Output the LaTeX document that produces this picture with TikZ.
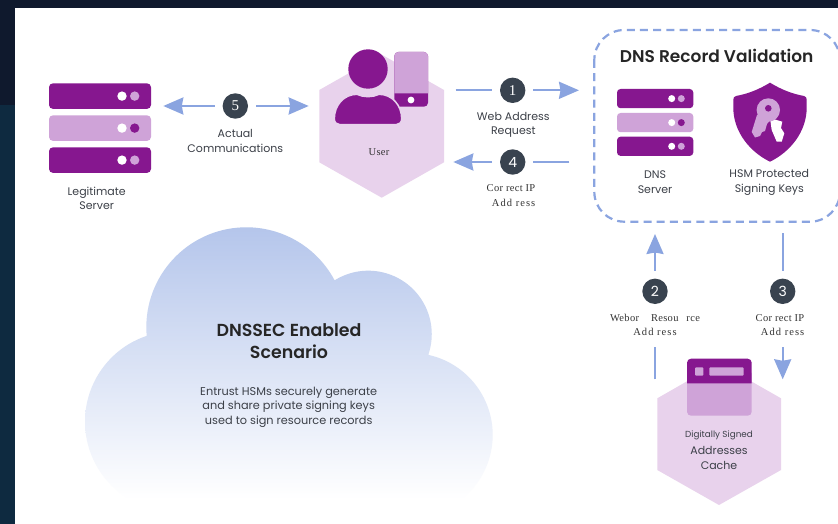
\documentclass[tikz,border=0pt]{standalone}
\usepackage{fontspec}
\setmainfont{Poppins}
\newfontfamily\titleface{Poppins SemiBold}
\newfontfamily\serifface[LetterSpace=3]{Liberation Serif}
\newfontfamily\serifwide[LetterSpace=10]{Liberation Serif}
\usepackage{tikz}
\usetikzlibrary{arrows.meta}

\definecolor{navytop}{HTML}{0F192D}
\definecolor{navyleft}{HTML}{0E2A40}
\definecolor{darkpurple}{HTML}{86178F}
\definecolor{lightpurple}{HTML}{CFA3D8}
\definecolor{hexpurple}{HTML}{E8D2EC}
\definecolor{flowblue}{HTML}{8AA4E0}
\definecolor{badgegray}{HTML}{39434F}
\definecolor{labelgray}{HTML}{3C4048}
\definecolor{cloudblue}{HTML}{B4C5EB}
\pgfdeclareverticalshading{cloudfade}{100bp}{color(0bp)=(white); color(28bp)=(white); color(75bp)=(cloudblue); color(100bp)=(cloudblue)}

\tikzset{
    badge/.style={circle, fill=badgegray, text=white, minimum size=25.4pt, inner sep=0pt, outer sep=8pt, font=\fontsize{14}{14}\selectfont},
    flowline/.style={draw=flowblue, line width=2.3pt},
    flowarrow/.style={flowline, -{Stealth[length=20pt,width=17pt,inset=1.5pt]}},
    lbl/.style={align=center, text=labelgray, inner sep=0pt, font=\fontsize{11}{14.4}\selectfont},
    seriflbl/.style={align=center, text=black!80, inner sep=0pt, font=\serifface\fontsize{10.5}{14.4}\selectfont},
}

\begin{document}
\begin{tikzpicture}[x=1pt,y=-1pt]
    \useasboundingbox (0,0) rectangle (838,524);

    % backdrop
    \fill[navytop] (0,0) rectangle (838,524);
    \fill[navyleft] (0,105) rectangle (15,524);
    \fill[white] (15,8) rectangle (838,524);

    % cloud
    \shade[shading=cloudfade] (146.7,336) arc (175:332:100) arc (238:379:63.5) arc (282.4:450:82) -- (175.4,512) arc (90:251.5:90.4) -- cycle;
    \node[inner sep=0pt, align=center, text=black!85, font=\titleface\fontsize{17.4}{21.7}\selectfont] (cloudtitle) at (289,341) {DNSSEC Enabled\\Scenario};
    \node[lbl, font=\fontsize{11.3}{14.4}\selectfont] (cloudtext) at (288.7,407) {Entrust HSMs securely generate\\and share private signing keys\\used to sign resource records};

    % legitimate server
    \foreach \y/\rowcol/\dotcol in {83.3/darkpurple/lightpurple, 115.3/lightpurple/darkpurple, 147.3/darkpurple/lightpurple} {
        \fill[\rowcol, rounded corners=4pt] (49,\y) rectangle (151,\y+25.6);
        \fill[white] (122,\y+12.8) circle (4.7);
        \fill[\dotcol] (134.7,\y+12.8) circle (4.7);
    }
    \node[lbl] (legitlabel) at (96.7,198.5) {Legitimate\\Server};

    % user
    \fill[hexpurple] (381.7,54.6) -- (444,90) -- (444,162.3) -- (381.7,197.7) -- (319.3,162.3) -- (319.3,90) -- cycle;
    \fill[darkpurple, rounded corners=4pt] (394.3,52) rectangle (428,106.7);
    \fill[lightpurple] (394.3,93.3) [rounded corners=4pt] -- (394.3,52) -- (428,52) [sharp corners] -- (428,93.3) -- cycle;
    \fill[white] (411,100) circle (3.4);
    \fill[darkpurple] (368,69) circle (19.7);
    \filldraw[fill=darkpurple, draw=hexpurple, line width=1.5pt] (334.3,119) .. controls (334.3,105) and (344,94.3) .. (357,94.3) .. controls (364,97.5) and (372,97.5) .. (379,94.3) .. controls (392,94.3) and (401.7,105) .. (401.7,119) .. controls (401.7,122.5) and (399,124.7) .. (396,124.7) -- (340,124.7) .. controls (337,124.7) and (334.3,122.5) .. (334.3,119) -- cycle;
    \node[seriflbl, font=\serifface\fontsize{10.5}{12}\selectfont] (userlabel) at (379,151.7) {User};

    % step 5
    \node[badge, font=\serifface\fontsize{15}{15}\selectfont] (stepfive) at (235.3,106) {5};
    \coordinate (fivewest) at (163.3,106);
    \coordinate (fiveeast) at (308.7,106);
    \draw[flowarrow] (stepfive) -- (fivewest);
    \draw[flowarrow] (stepfive) -- (fiveeast);
    \node[lbl] (fivelabel) at (235.3,141) {Actual\\Communications};

    % step 1
    \node[badge, font=\serifface\fontsize{15}{15}\selectfont] (stepone) at (512.7,90.3) {1};
    \coordinate (onewest) at (455.7,90.3);
    \coordinate (oneeast) at (579,90.3);
    \draw[flowline] (onewest) -- (stepone);
    \draw[flowarrow] (stepone) -- (oneeast);
    \node[lbl] (onelabel) at (513.3,125) {Web Address\\Request};

    % step 4
    \node[badge] (stepfour) at (512.7,162) {4};
    \coordinate (fourwest) at (453.3,162);
    \coordinate (foureast) at (569.3,162);
    \draw[flowarrow] (stepfour) -- (fourwest);
    \draw[flowline] (foureast) -- (stepfour);
    \node[seriflbl, align=right, anchor=east] (fourlabel) at (535.5,195.5) {Cor rect IP\\\serifwide Add ress};

    % dns record validation
    \draw[flowblue, line width=2.2pt, dash pattern=on 8pt off 5.2pt, rounded corners=30pt] (594.3,30) rectangle (840,221.7);
    \node[inner sep=0pt, text=black!85, font=\titleface\fontsize{17}{18}\selectfont] (dnstitle) at (716.7,56) {DNS Record Validation};

    \foreach \y/\rowcol/\dotcol in {89/darkpurple/lightpurple, 113/lightpurple/darkpurple, 136.7/darkpurple/lightpurple} {
        \fill[\rowcol, rounded corners=3.5pt] (617,\y) rectangle (693.3,\y+19.2);
        \fill[white] (671.7,\y+9.6) circle (3.5);
        \fill[\dotcol] (681.3,\y+9.6) circle (3.5);
    }
    \node[lbl] (dnslabel) at (655,182.3) {DNS\\Server};

    % shield and key
    \fill[darkpurple] (770,82.7) .. controls (758,90) and (747,94) .. (736,96) .. controls (733.8,96.5) and (733.3,98) .. (733.3,100) -- (733.3,108) .. controls (733.5,132) and (750,152) .. (770,161.7) .. controls (790,152) and (806.5,132) .. (806.7,108) -- (806.7,100) .. controls (806.7,98) and (806.2,96.5) .. (804,96) .. controls (793,94) and (782,90) .. (770,82.7) -- cycle;
    \fill[white] (770,118) -- (782.3,121.7) -- (781,128) -- (784.3,133.3) -- (781.7,141.7) -- (776.7,141.7) -- (771.7,130) -- cycle;
    \fill[lightpurple] (757,115) -- (751.7,132) -- (755,137.5) -- (760,136) -- (762,132) -- (765,131) -- (767,124) -- (772,118) -- cycle;
    \fill[lightpurple] (768.3,110) circle (11.7);
    \fill[darkpurple] (768.3,108.3) circle (3.3);
    \node[lbl] (hsmlabel) at (769.3,182.3) {HSM Protected\\Signing Keys};

    % step 2
    \node[badge] (steptwo) at (655,291.3) {2};
    \coordinate (twotop) at (655,234);
    \coordinate (twobottom) at (655,379.3);
    \coordinate (twomid) at (655,347.3);
    \draw[flowarrow] (steptwo) -- (twotop);
    \draw[flowline] (twobottom) -- (twomid);
    \node[seriflbl] (twolabel) at (655,325) {Webor \hspace{9pt}Resou \hspace{5pt}rce\\\serifwide Add ress};

    % step 3
    \node[badge] (stepthree) at (782.7,291.3) {3};
    \coordinate (threetop) at (782.7,233.3);
    \coordinate (threebottom) at (782.7,379.3);
    \coordinate (threemid) at (782.7,347.3);
    \draw[flowline] (threetop) -- (stepthree);
    \draw[flowarrow] (threemid) -- (threebottom);
    \node[seriflbl, align=right, anchor=east] (threelabel) at (804.5,325) {Cor rect IP\\\serifwide Add ress};

    % addresses cache
    \fill[hexpurple] (719,363) -- (781,398.3) -- (781,470) -- (719,505) -- (657.3,470) -- (657.3,398.3) -- cycle;
    \fill[lightpurple, rounded corners=4pt] (687,370) rectangle (751.7,415.7);
    \fill[darkpurple] (687,383.3) [rounded corners=4pt] -- (687,358.7) -- (751.7,358.7) [sharp corners] -- (751.7,383.3) -- cycle;
    \fill[lightpurple, rounded corners=1pt] (695,367.3) rectangle (703.3,375.7);
    \fill[lightpurple, rounded corners=1pt] (709.3,367.3) rectangle (743.7,375.7);
    \node[lbl, font=\fontsize{8.8}{10}\selectfont] (signedlabel) at (719,435) {Digitally Signed};
    \node[lbl] (cachelabel) at (719,458) {Addresses\\Cache};
\end{tikzpicture}
\end{document}
